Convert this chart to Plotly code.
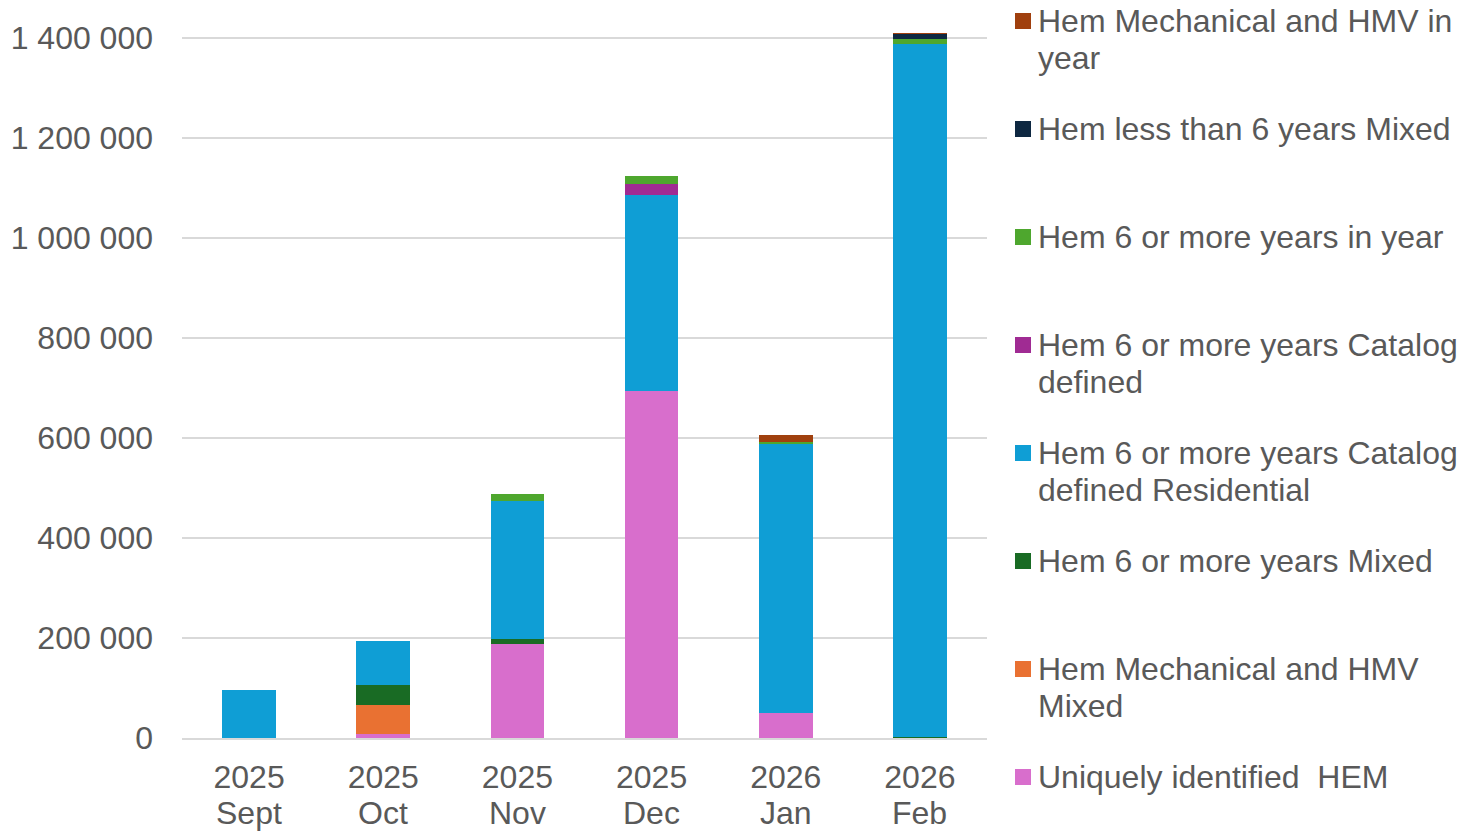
import plotly.graph_objects as go

years = ["2025", "2025", "2025", "2025", "2026", "2026"]
months = ["Sept", "Oct", "Nov", "Dec", "Jan", "Feb"]
categories = [f"{y} {m}" for y, m in zip(years, months)]

uniquely_hem = [0, 9000, 189000, 695000, 51000, 0]
mech_hmv_mixed = [0, 58000, 0, 0, 0, 0]
six_plus_mixed = [0, 40000, 10000, 0, 0, 3000]
six_plus_cat_res = [96000, 87000, 275000, 392000, 538000, 1385000]
six_plus_cat = [0, 0, 0, 22000, 0, 0]
six_plus_in_year = [0, 0, 15000, 15000, 4000, 11000]
less_six_mixed = [0, 0, 0, 0, 0, 9000]
mech_hmv_in_year = [0, 0, 0, 0, 13000, 1500]

series = [
    ("Uniquely identified  HEM", uniquely_hem, "#D86ECC"),
    ("Hem Mechanical and HMV Mixed", mech_hmv_mixed, "#E97132"),
    ("Hem 6 or more years Mixed", six_plus_mixed, "#196B24"),
    ("Hem 6 or more years Catalog defined Residential", six_plus_cat_res, "#0F9ED5"),
    ("Hem 6 or more years Catalog defined", six_plus_cat, "#A02B93"),
    ("Hem 6 or more years in year", six_plus_in_year, "#4EA72E"),
    ("Hem less than 6 years Mixed", less_six_mixed, "#0E2841"),
    ("Hem Mechanical and HMV in year", mech_hmv_in_year, "#A0400E"),
]

# legend lines (top to bottom)
legend_lines = [
    (["Hem Mechanical and HMV in", "year"], "#A0400E"),
    (["Hem less than 6 years Mixed"], "#0E2841"),
    (["Hem 6 or more years in year"], "#4EA72E"),
    (["Hem 6 or more years Catalog", "defined"], "#A02B93"),
    (["Hem 6 or more years Catalog", "defined Residential"], "#0F9ED5"),
    (["Hem 6 or more years Mixed"], "#196B24"),
    (["Hem Mechanical and HMV", "Mixed"], "#E97132"),
    (["Uniquely identified  HEM"], "#D86ECC"),
]

FONT = "Liberation Sans, Arial, sans-serif"
TXT = "#595959"
FS = 32
W, H = 1462, 831
L, R, T, B = 182, 475, 13, 93
PW = W - L - R
PH = H - T - B

def px_x(px):
    return (px - L) / PW

def px_y(py):
    return (H - B - py) / PH

fig = go.Figure()
for name, vals, col in series:
    fig.add_trace(go.Bar(x=categories, y=vals, name=name, marker=dict(color=col, line=dict(width=0))))

annotations = []
shapes = []
for k, (lines, col) in enumerate(legend_lines):
    y0 = 21 + 108 * k
    shapes.append(dict(type="rect", xref="paper", yref="paper",
                       x0=px_x(1015), x1=px_x(1031), y0=px_y(y0 + 8), y1=px_y(y0 - 8),
                       fillcolor=col, line=dict(width=0)))
    for j, line in enumerate(lines):
        annotations.append(dict(xref="paper", yref="paper", x=px_x(1036), y=px_y(y0 + 37 * j),
                                text=line, showarrow=False, xanchor="left", yanchor="middle",
                                font=dict(family=FONT, size=FS, color=TXT)))

# month labels (second line of category labels)
for cat, m in zip(categories, months):
    annotations.append(dict(xref="x", yref="paper", x=cat, y=px_y(813), text=m,
                            showarrow=False, xanchor="center", yanchor="middle",
                            font=dict(family=FONT, size=FS, color=TXT)))

fig.update_layout(
    width=W, height=H,
    margin=dict(l=L, r=R, t=T, b=B, autoexpand=False),
    barmode="stack", bargap=0.6,
    showlegend=False,
    plot_bgcolor="white", paper_bgcolor="white",
    separators=". ",
    font=dict(family=FONT, size=FS, color=TXT),
    annotations=annotations, shapes=shapes,
    xaxis=dict(showgrid=False, showline=True, linecolor="#d9d9d9", linewidth=1.5,
               tickvals=categories, ticktext=years,
               tickfont=dict(size=FS, color=TXT), ticks="", automargin=False,
               ticklabelstandoff=10),
    yaxis=dict(range=[0, 1450000], tickvals=[0, 200000, 400000, 600000, 800000, 1000000, 1200000, 1400000],
               tickformat=",d", showgrid=True, gridcolor="#d9d9d9", gridwidth=1.5,
               zeroline=False, showline=False, ticklabelstandoff=28, automargin=False,
               tickfont=dict(size=FS, color=TXT)),
)

fig.write_html("out.html")
